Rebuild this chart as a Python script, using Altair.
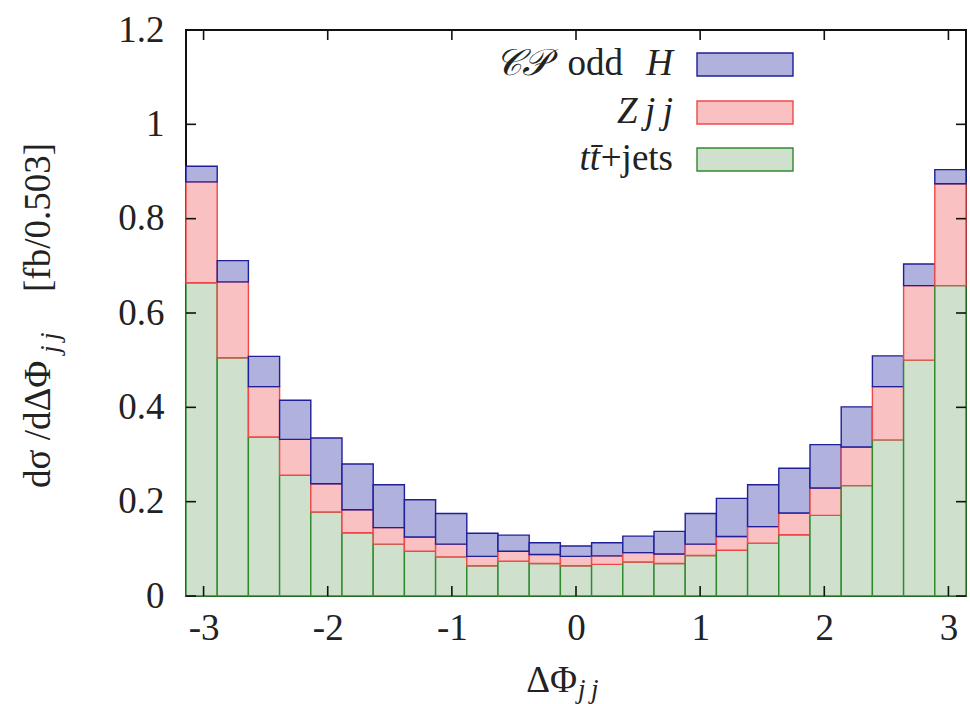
import math
import altair as alt
import pandas as pd

# Delta-Phi_jj distribution, 25 equal bins over [-pi, pi], stacked by process
n_bins = 25
ttbar_jets = [0.664, 0.505, 0.337, 0.256, 0.178, 0.134, 0.110, 0.095, 0.083, 0.064,
              0.074, 0.069, 0.064, 0.067, 0.072, 0.069, 0.086, 0.097, 0.112, 0.130,
              0.171, 0.234, 0.331, 0.500, 0.658]
zjj = [0.214, 0.161, 0.107, 0.076, 0.060, 0.049, 0.035, 0.030, 0.027, 0.020,
       0.021, 0.019, 0.020, 0.018, 0.020, 0.020, 0.024, 0.029, 0.035, 0.046,
       0.058, 0.082, 0.113, 0.158, 0.216]
cp_odd_h = [0.033, 0.045, 0.064, 0.083, 0.097, 0.097, 0.091, 0.079, 0.065, 0.049,
            0.034, 0.025, 0.022, 0.028, 0.035, 0.048, 0.065, 0.081, 0.089, 0.095,
            0.092, 0.085, 0.065, 0.046, 0.030]

series = ["ttbar", "zjj", "cpodd"]
fills = ["#cfe1cd", "#f9c1c1", "#b1b1dd"]
strokes = ["#2f8a2f", "#f04848", "#1f1f9a"]

x_ticks = [-3, -2, -1, 0, 1, 2, 3]
y_ticks = [0, 0.2, 0.4, 0.6, 0.8, 1.0, 1.2]

W, H = 780, 566
FONT = "'Liberation Serif', 'DejaVu Serif', serif"
FS = 37
THIN = "\u2009"

step = 2 * math.pi / n_bins
rows = []
for i in range(n_bins):
    lo = -math.pi + i * step
    for rank, (name, vals) in enumerate(zip(series, [ttbar_jets, zjj, cp_odd_h])):
        rows.append({"bin": i, "lo": lo, "hi": lo + step, "series": name,
                     "rank": rank, "value": vals[i]})
df = pd.DataFrame(rows)

xscale = alt.Scale(domain=[-math.pi, math.pi], nice=False, zero=False)
yscale = alt.Scale(domain=[0, 1.2], nice=False)

bars = alt.Chart(df).transform_stack(
    stack="value", groupby=["bin"], as_=["y0", "y1"],
    sort=[alt.SortField("rank", order="ascending")],
).mark_rect(strokeWidth=1.4).encode(
    x=alt.X("lo:Q", scale=xscale,
            axis=alt.Axis(values=x_ticks, labelExpr="'' + datum.value", ticks=False,
                          domain=False, grid=False, title=None, labelFont=FONT,
                          labelFontSize=FS, labelColor="#222", labelPadding=14)),
    x2="hi:Q",
    y=alt.Y("y0:Q", scale=yscale,
            axis=alt.Axis(values=y_ticks, format=".1~f", ticks=False, domain=False,
                          grid=False, title=None, labelFont=FONT, labelFontSize=FS,
                          labelColor="#222", labelPadding=22)),
    y2="y1:Q",
    fill=alt.Fill("series:N", scale=alt.Scale(domain=series, range=fills), legend=None),
    stroke=alt.Stroke("series:N", scale=alt.Scale(domain=series, range=strokes), legend=None),
)

# inward tick marks on all four sides of the frame
xt = pd.DataFrame({"v": x_ticks})
yt = pd.DataFrame({"v": y_ticks})
tick_style = dict(color="#111", strokeWidth=1.6)
ticks = [
    alt.Chart(xt).mark_rule(**tick_style).encode(
        x=alt.X("v:Q", scale=xscale), y=alt.value(H), y2=alt.value(H - 10)),
    alt.Chart(xt).mark_rule(**tick_style).encode(
        x=alt.X("v:Q", scale=xscale), y=alt.value(0), y2=alt.value(10)),
    alt.Chart(yt).mark_rule(**tick_style).encode(
        y=alt.Y("v:Q", scale=yscale), x=alt.value(0), x2=alt.value(10)),
    alt.Chart(yt).mark_rule(**tick_style).encode(
        y=alt.Y("v:Q", scale=yscale), x=alt.value(W), x2=alt.value(W - 10)),
]

one = pd.DataFrame({"k": [0]})


def text(t, x, y, size=FS, style="normal", align="left", angle=0):
    return alt.Chart(one).mark_text(
        font=FONT, fontSize=size, fontStyle=style, align=align,
        baseline="alphabetic", angle=angle, color="#222",
    ).encode(x=alt.value(x), y=alt.value(y), text=alt.value(t))


def swatch(y_top, fill, stroke):
    return alt.Chart(one).mark_rect(fill=fill, stroke=stroke, strokeWidth=1.4).encode(
        x=alt.value(511), x2=alt.value(607), y=alt.value(y_top), y2=alt.value(y_top + 23))


jj = "j" + THIN + "j"

legend = [
    text("𝒞𝒫", 363, 45, style="italic", align="right"),
    text("odd", 437, 45, align="right"),
    text("H", 487, 45, style="italic", align="right"),
    text("Z" + THIN + jj, 487, 93, style="italic", align="right"),
    text("tt̄", 414, 140, style="italic", align="right"),
    text("+jets", 487, 140, align="right"),
    swatch(23, fills[2], strokes[2]),
    swatch(71, fills[1], strokes[1]),
    swatch(118, fills[0], strokes[0]),
]

titles = [
    text("ΔΦ", 391, 662, align="right"),
    text(jj, 392, 668, size=27, style="italic"),
    text("dσ /dΔΦ", -136, 458, angle=270),
    text(jj, -127, 323, size=27, style="italic", angle=270),
    text("[fb/0.503]", -136, 113, angle=270, align="right"),
]

chart = alt.layer(bars, *ticks, *legend, *titles).properties(
    width=W, height=H,
    autosize=alt.AutoSizeParams(type="none"),
    padding={"left": 186, "top": 30, "right": 4, "bottom": 108},
).configure_view(stroke="#111", strokeWidth=2)

chart.save("out.html", embed_options={"renderer": "svg", "actions": False})
